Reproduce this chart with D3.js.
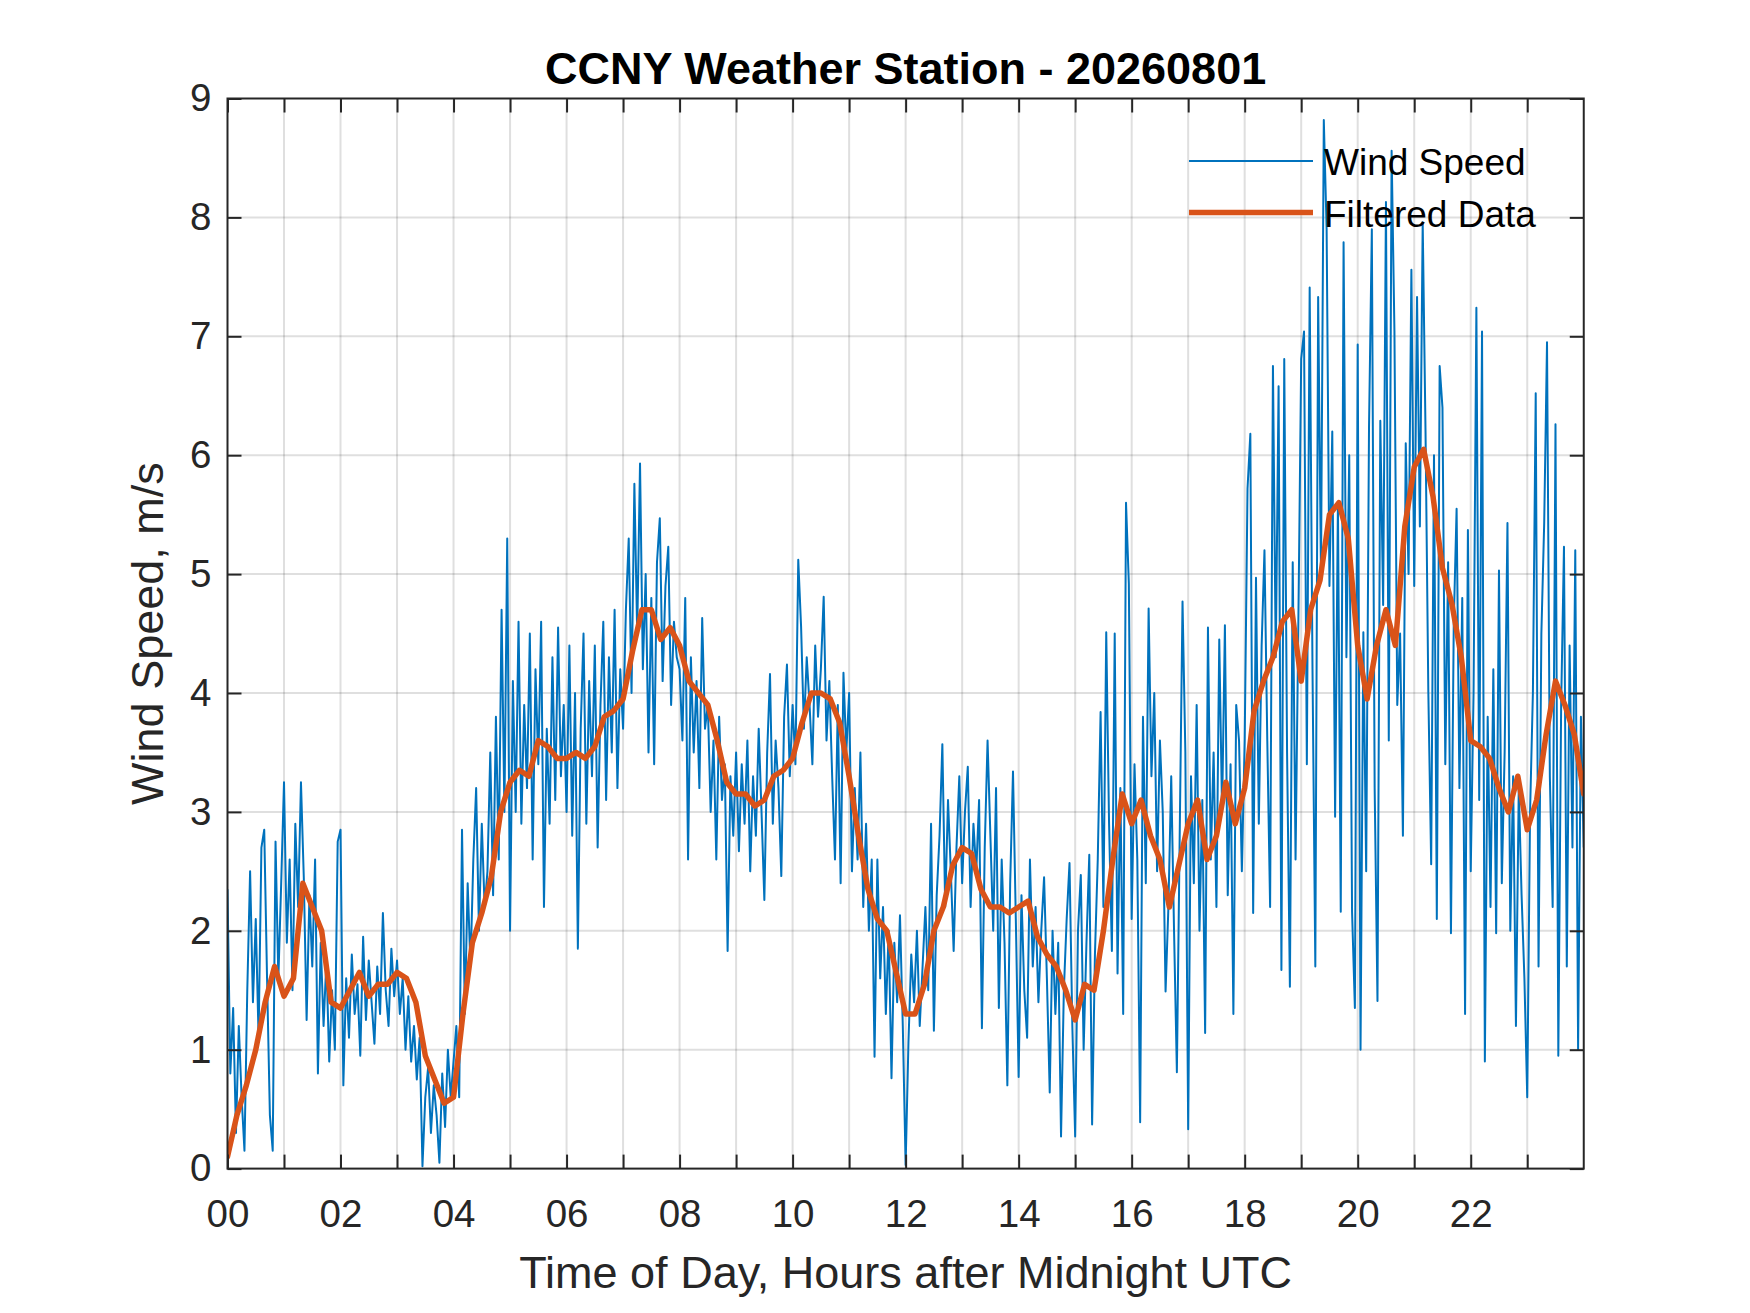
<!DOCTYPE html>
<html lang="en">
<head>
    <meta charset="UTF-8">
    <title>CCNY Weather Station - 20260801</title>
    <script src="https://d3js.org/d3.v7.min.js"></script>
    <style>
        body {
            margin: 0;
            background: white;
        }
        text {
            font-family: "Liberation Sans", Arial, Helvetica, sans-serif;
        }
        .title {
            font-size: 45px;
            font-weight: bold;
            fill: #000;
        }
        .axis-label {
            font-size: 45px;
            fill: #262626;
        }
        .legend-label {
            font-size: 37px;
            fill: #000;
        }
    </style>
</head>
<body>
<div id="chart"></div>
<script>
    var w = 1750;
    var h = 1313;
    var margin = {top: 98.5, right: 166.25, bottom: 144.4, left: 227.5};

    // one sample every 3 minutes, 00:00 .. 24:00 (one row per hour)
    var rawStepMinutes = 3;
    var windSpeed = [
        2.35, 0.8, 1.35, 0.3, 1.2, 0.6, 0.15, 1.5, 2.5, 1.4, 2.1, 1.1, 2.7, 2.85, 1.6, 0.45, 0.15, 2.75, 1.6, 2.4,
        3.25, 1.9, 2.6, 1.5, 2.9, 2.2, 3.25, 2.45, 1.25, 2.3, 1.7, 2.6, 0.8, 1.9, 1.2, 1.75, 0.9, 1.5, 1.0, 2.75,
        2.85, 0.7, 1.6, 1.1, 1.8, 1.3, 1.55, 0.95, 1.95, 1.25, 1.75, 1.4, 1.05, 1.7, 1.3, 2.15, 1.5, 1.2, 1.85, 1.45,
        1.75, 1.3, 1.6, 1.0, 1.45, 0.9, 1.2, 0.75, 1.1, 0.02, 0.6, 0.85, 0.3, 0.7, 0.45, 0.05, 0.8, 0.35, 1.0, 0.6,
        0.9, 1.2, 0.6, 2.85, 1.3, 2.4, 1.7, 2.6, 3.2, 2.0, 2.9, 2.2, 2.5, 3.5, 2.3, 3.8, 2.6, 4.7, 3.0, 5.3,
        2.0, 4.1, 3.0, 4.6, 2.9, 3.9, 3.2, 4.5, 2.6, 4.2, 3.4, 4.6, 2.2, 3.7, 2.9, 4.3, 3.1, 4.55, 3.3, 3.9,
        3.0, 4.4, 2.8, 4.0, 1.85, 3.7, 4.5, 2.9, 4.1, 3.3, 4.4, 2.7, 3.9, 4.6, 3.1, 4.3, 3.5, 4.7, 3.2, 4.2,
        3.7, 4.7, 5.3, 4.0, 5.76, 4.5, 5.93, 4.2, 5.0, 3.5, 4.8, 3.4, 5.1, 5.47, 4.1, 4.9, 5.23, 3.9, 4.6, 4.3,
        4.2, 3.6, 4.8, 2.6, 4.3, 3.5, 4.1, 3.2, 4.63, 3.7, 3.9, 3.0, 3.6, 2.6, 3.8, 3.1, 3.4, 1.83, 3.3, 2.8,
        3.5, 2.67, 3.4, 2.9, 3.6, 2.5, 3.3, 2.8, 3.7, 3.0, 2.26, 3.5, 4.16, 2.9, 3.6, 3.2, 2.46, 3.8, 4.24, 3.3,
        3.9, 3.4, 5.12, 4.56, 3.7, 4.3, 3.9, 3.4, 4.4, 3.8, 4.2, 4.81, 3.6, 4.1, 3.3, 2.6, 3.9, 2.4, 4.17, 3.5,
        4.0, 2.5, 3.2, 2.6, 3.5, 2.2, 2.9, 2.0, 2.6, 0.94, 2.6, 1.6, 2.2, 1.3, 2.0, 0.76, 1.9, 1.4, 2.13, 1.2,
        0.03, 1.06, 1.8, 1.4, 2.0, 1.2, 1.7, 2.2, 1.5, 2.9, 1.16, 2.3, 2.8, 3.57, 2.2, 3.1, 2.5, 1.83, 2.7, 3.3,
        2.4, 3.0, 3.38, 2.2, 2.9, 2.5, 3.1, 1.18, 2.7, 3.6, 2.8, 2.0, 3.2, 1.35, 2.6, 1.9, 0.7, 2.4, 3.34, 2.1,
        0.77, 2.3, 1.5, 1.1, 2.6, 1.7, 2.2, 1.4, 2.0, 2.45, 1.6, 0.64, 2.0, 1.3, 1.9, 0.27, 1.5, 2.1, 2.57, 1.2,
        0.27, 2.0, 2.47, 1.0, 1.9, 2.64, 0.37, 1.8, 2.6, 3.84, 2.2, 4.51, 2.9, 1.83, 4.5, 1.64, 3.2, 1.3, 5.6, 4.92,
        2.1, 3.4, 2.6, 0.39, 3.8, 2.4, 4.71, 3.3, 4.0, 2.5, 3.6, 3.0, 1.49, 2.2, 3.3, 2.0, 0.81, 2.8, 4.77, 3.5,
        0.33, 3.3, 2.4, 3.9, 2.0, 3.1, 1.14, 4.55, 2.6, 3.5, 2.2, 4.45, 3.0, 4.57, 2.3, 3.4, 1.3, 3.9, 3.6, 2.5,
        3.6, 5.72, 6.18, 2.15, 4.97, 2.9, 4.4, 5.2, 3.6, 2.2, 6.75, 4.3, 6.58, 1.67, 6.81, 3.5, 1.53, 5.1, 2.6, 4.6,
        6.81, 7.04, 3.4, 7.41, 4.2, 1.7, 7.33, 5.0, 8.82, 7.9, 4.9, 6.2, 2.96, 5.6, 2.16, 7.79, 4.3, 6.0, 2.16, 1.35,
        6.93, 1.0, 4.51, 2.5, 6.23, 7.9, 3.2, 1.41, 6.29, 4.74, 8.13, 3.6, 8.56, 7.04, 3.9, 4.5, 2.8, 6.1, 5.0, 7.56,
        4.9, 7.33, 5.4, 7.96, 6.2, 4.0, 2.56, 6.0, 2.1, 6.75, 6.4, 3.4, 5.1, 1.98, 4.6, 5.55, 3.2, 4.8, 1.3, 5.37,
        2.5, 4.0, 7.24, 3.1, 7.04, 0.9, 3.8, 2.2, 4.2, 1.98, 5.03, 2.4, 3.5, 5.43, 2.0, 3.3, 1.2, 3.2, 2.3, 1.6,
        0.6, 3.0, 4.0, 6.52, 1.7, 4.5, 5.43, 6.95, 3.3, 2.2, 6.26, 0.95, 3.9, 5.23, 1.7, 4.4, 2.7, 5.2, 1.0, 3.8,
        2.7
    ];

    // filtered curve, one value every 10 minutes (6 per row)
    var filteredStepMinutes = 10;
    var filteredSpeed = [
        0.1, 0.45, 0.7, 1.0, 1.4, 1.7,
        1.45, 1.6, 2.4, 2.2, 2.0, 1.4,
        1.35, 1.5, 1.65, 1.45, 1.55, 1.55,
        1.65, 1.6, 1.4, 0.95, 0.75, 0.55,
        0.6, 1.3, 1.9, 2.15, 2.45, 3.0,
        3.25, 3.35, 3.3, 3.6, 3.55, 3.45,
        3.45, 3.5, 3.45, 3.55, 3.8, 3.85,
        3.95, 4.35, 4.7, 4.7, 4.45, 4.55,
        4.4, 4.1, 4.0, 3.9, 3.6, 3.25,
        3.15, 3.15, 3.05, 3.1, 3.3, 3.35,
        3.45, 3.75, 4.0, 4.0, 3.95, 3.75,
        3.3, 2.8, 2.35, 2.1, 2.0, 1.65,
        1.3, 1.3, 1.55, 2.0, 2.2, 2.55,
        2.7, 2.65, 2.35, 2.2, 2.2, 2.15,
        2.2, 2.25, 1.95, 1.8, 1.7, 1.5,
        1.25, 1.55, 1.5, 2.0, 2.6, 3.15,
        2.9, 3.1, 2.8, 2.6, 2.2, 2.55,
        2.9, 3.1, 2.6, 2.8, 3.25, 2.9,
        3.2, 3.85, 4.1, 4.3, 4.6, 4.7,
        4.1, 4.7, 4.95, 5.5, 5.6, 5.3,
        4.4, 3.95, 4.4, 4.7, 4.4, 5.4,
        5.9, 6.05, 5.65, 5.05, 4.75, 4.3,
        3.6, 3.55, 3.45, 3.2, 3.0, 3.3,
        2.85, 3.1, 3.65, 4.1, 3.9, 3.65,
        3.15
    ];

    var hourTicks = d3.range(0, 24);
    var xTickLabels = ["00", "02", "04", "06", "08", "10", "12", "14", "16", "18", "20", "22"];
    var yTicks = [0, 1, 2, 3, 4, 5, 6, 7, 8, 9];
    var seriesNames = ["Wind Speed", "Filtered Data"];

    var blue = "#0072BD";
    var orange = "#D95319";
    var axisColor = "#262626";

    var xScale = d3.scaleLinear()
                   .domain([0, 24])
                   .range([margin.left, w - margin.right]);

    var yScale = d3.scaleLinear()
                   .domain([0, 9])
                   .range([h - margin.bottom, margin.top]);

    var svg = d3.select("#chart")
                .append("svg")
                .attr("width", w)
                .attr("height", h);

    svg.append("rect")
       .attr("width", w)
       .attr("height", h)
       .attr("fill", "white");

    svg.append("clipPath")
       .attr("id", "plot-clip")
       .append("rect")
       .attr("x", margin.left)
       .attr("y", margin.top)
       .attr("width", w - margin.left - margin.right)
       .attr("height", h - margin.top - margin.bottom);

    // grid
    svg.append("g")
       .selectAll("line")
       .data(hourTicks.slice(1))
       .enter()
       .append("line")
       .attr("x1", function(d) { return xScale(d); })
       .attr("x2", function(d) { return xScale(d); })
       .attr("y1", yScale(0))
       .attr("y2", yScale(9))
       .attr("stroke", axisColor)
       .attr("stroke-opacity", 0.15)
       .attr("stroke-width", 2);

    svg.append("g")
       .selectAll("line")
       .data(yTicks.slice(1, -1))
       .enter()
       .append("line")
       .attr("x1", xScale(0))
       .attr("x2", xScale(24))
       .attr("y1", function(d) { return yScale(d); })
       .attr("y2", function(d) { return yScale(d); })
       .attr("stroke", axisColor)
       .attr("stroke-opacity", 0.15)
       .attr("stroke-width", 2);

    // data lines
    var rawLine = d3.line()
                    .x(function(d, i) { return xScale(i * rawStepMinutes / 60); })
                    .y(function(d) { return yScale(d); });

    var filteredLine = d3.line()
                         .x(function(d, i) { return xScale(i * filteredStepMinutes / 60); })
                         .y(function(d) { return yScale(d); });

    var plot = svg.append("g")
                  .attr("clip-path", "url(#plot-clip)");

    plot.append("path")
        .datum(windSpeed)
        .attr("d", rawLine)
        .attr("fill", "none")
        .attr("stroke", blue)
        .attr("stroke-width", 2)
        .attr("stroke-linejoin", "round");

    plot.append("path")
        .datum(filteredSpeed)
        .attr("d", filteredLine)
        .attr("fill", "none")
        .attr("stroke", orange)
        .attr("stroke-width", 5.5)
        .attr("stroke-linejoin", "round")
        .attr("stroke-linecap", "round");

    // axes, ticks pointing inwards on all four sides
    function styleAxis(g) {
        g.select(".domain").remove();
        g.selectAll(".tick line")
         .attr("stroke", axisColor)
         .attr("stroke-width", 2);
        g.selectAll(".tick text")
         .attr("fill", axisColor)
         .attr("font-size", "38.5px")
         .attr("font-family", "'Liberation Sans', Arial, Helvetica, sans-serif");
    }

    var xAxis = d3.axisBottom(xScale)
                  .tickValues(hourTicks)
                  .tickSize(-14)
                  .tickPadding(31)
                  .tickFormat(function(d) {
                      return d % 2 === 0 ? xTickLabels[d / 2] : "";
                  });

    var yAxis = d3.axisLeft(yScale)
                  .tickValues(yTicks)
                  .tickSize(-14)
                  .tickPadding(16)
                  .tickFormat(d3.format("d"));

    svg.append("g")
       .attr("transform", "translate(0," + yScale(0) + ")")
       .call(xAxis)
       .call(styleAxis);

    svg.append("g")
       .attr("transform", "translate(" + xScale(0) + ",0)")
       .call(yAxis)
       .call(styleAxis);

    svg.append("g")
       .attr("transform", "translate(0," + yScale(9) + ")")
       .call(d3.axisTop(xScale).tickValues(hourTicks).tickSize(-14).tickFormat(""))
       .call(styleAxis);

    svg.append("g")
       .attr("transform", "translate(" + xScale(24) + ",0)")
       .call(d3.axisRight(yScale).tickValues(yTicks).tickSize(-14).tickFormat(""))
       .call(styleAxis);

    svg.append("rect")
       .attr("x", xScale(0))
       .attr("y", yScale(9))
       .attr("width", xScale(24) - xScale(0))
       .attr("height", yScale(0) - yScale(9))
       .attr("fill", "none")
       .attr("stroke", axisColor)
       .attr("stroke-width", 2);

    // titles
    svg.append("text")
       .attr("class", "title")
       .attr("x", (xScale(0) + xScale(24)) / 2)
       .attr("y", 84)
       .attr("text-anchor", "middle")
       .text("CCNY Weather Station - 20260801");

    svg.append("text")
       .attr("class", "axis-label")
       .attr("x", (xScale(0) + xScale(24)) / 2)
       .attr("y", 1288)
       .attr("text-anchor", "middle")
       .text("Time of Day, Hours after Midnight UTC");

    svg.append("text")
       .attr("class", "axis-label")
       .attr("transform", "translate(163," + (yScale(0) + yScale(9)) / 2 + ") rotate(-90)")
       .attr("text-anchor", "middle")
       .text("Wind Speed, m/s");

    // legend (no box, drawn over the data)
    var legend = svg.append("g")
                    .attr("transform", "translate(1189,161)");

    legend.selectAll("line")
          .data(seriesNames)
          .enter()
          .append("line")
          .attr("x1", 0)
          .attr("x2", 124)
          .attr("y1", function(d, i) { return i * 51.5; })
          .attr("y2", function(d, i) { return i * 51.5; })
          .attr("stroke", function(d, i) { return i === 0 ? blue : orange; })
          .attr("stroke-width", function(d, i) { return i === 0 ? 2 : 5.5; });

    legend.selectAll("text")
          .data(seriesNames)
          .enter()
          .append("text")
          .attr("class", "legend-label")
          .attr("x", 135)
          .attr("y", function(d, i) { return i * 51.5 + 14; })
          .text(function(d) { return d; });
</script>
</body>
</html>
